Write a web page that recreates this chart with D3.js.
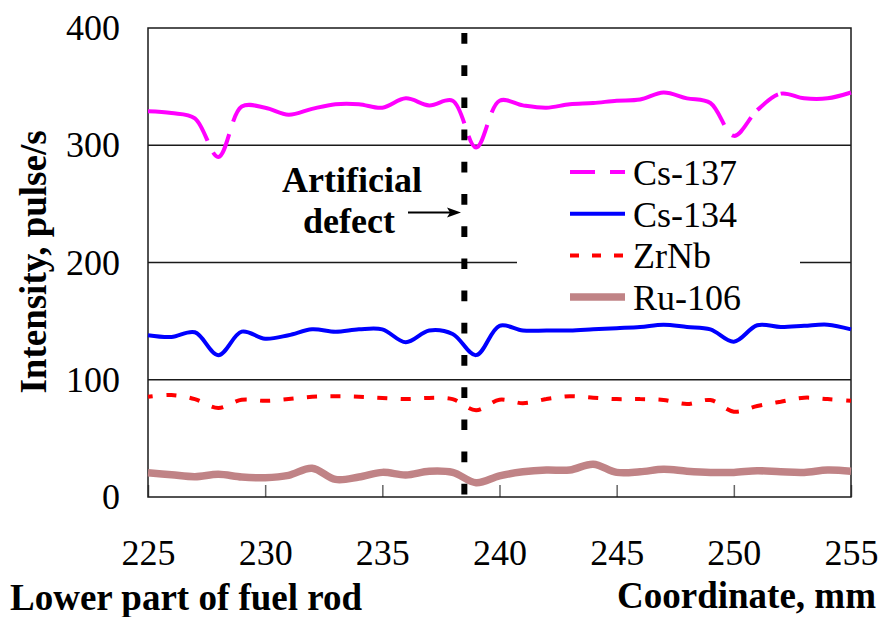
<!DOCTYPE html>
<html>
<head>
<meta charset="utf-8">
<script src="https://cdn.jsdelivr.net/npm/d3@7"></script>
<style>
  body { margin: 0; background: #fff; }
  text { font-family: "Liberation Serif", "Times New Roman", serif; }
</style>
</head>
<body>
<div id="chart"></div>
<script>
// Coordinate along the rod, mm
const coords = [225, 226, 227, 228, 229, 230, 231, 232, 233, 234, 235, 236, 237, 238, 239, 240,
                241, 242, 243, 244, 245, 246, 247, 248, 249, 250, 251, 252, 253, 254, 255];

// Intensity, pulse/s
const cs137 = [329, 327.5, 323, 290, 333, 332, 326, 331, 335, 335, 332, 340, 334, 338, 298, 338,
               334, 332, 335, 336, 338, 339, 345, 340, 336, 308, 330, 344, 340, 340, 345];
const cs134 = [138, 136.5, 140.5, 121, 141, 135, 138, 143, 141, 143, 143, 132, 142, 139, 121, 146,
               142, 142, 142, 143, 144, 145, 147, 145, 143, 132.5, 146.5, 145, 146, 147, 143];
const zrnb  = [85.5, 87, 83.5, 76, 83, 82, 83.5, 85.5, 86, 85.5, 84.5, 83.5, 84.5, 83.5, 74, 83,
               80, 83.5, 86, 84.7, 83.5, 83.5, 82.7, 79.3, 82.7, 72.8, 77.6, 81.3, 84.7, 83.5, 82];
const ru106 = [20.7, 19, 17.3, 19.3, 17, 16.5, 18.5, 24.5, 15, 17, 21, 18.8, 22, 21, 12.2, 18,
               21.5, 23, 23, 28, 21, 21.5, 23.6, 22, 21, 21, 22.4, 21.5, 21, 23, 22];

const seriesNames = ['Cs-137', 'Cs-134', 'ZrNb', 'Ru-106'];
const xTicks = [225, 230, 235, 240, 245, 250, 255];
const yTicks = [0, 100, 200, 300, 400];
const defectPos = 238.5;

const width = 880, height = 617;
const plotL = 148, plotR = 851, plotT = 28, plotB = 497;

const svg = d3.select('#chart').append('svg')
    .attr('width', width)
    .attr('height', height);

const x = d3.scaleLinear().domain([225, 255]).range([plotL, plotR]);
const y = d3.scaleLinear().domain([0, 400]).range([plotB, plotT]);

// gridlines
svg.append('g')
    .selectAll('line')
    .data(yTicks.filter(d => d > 0 && d < 400))
    .enter().append('line')
    .attr('x1', plotL).attr('x2', plotR)
    .attr('y1', d => y(d)).attr('y2', d => y(d))
    .attr('stroke', '#1a1a1a')
    .attr('stroke-width', 1.5);

// x axis (ticks point up, inside)
const xAxis = svg.append('g')
    .attr('transform', `translate(0, ${plotB})`)
    .call(d3.axisBottom(x).tickValues(xTicks).tickSizeInner(-12).tickSizeOuter(0).tickPadding(42));
xAxis.select('.domain').remove();
xAxis.selectAll('line').attr('stroke', '#666').attr('stroke-width', 1.5);
xAxis.selectAll('text').attr('font-size', 36).attr('fill', '#000')
    .style('font-family', '"Liberation Serif", serif');

// y axis
const yAxis = svg.append('g')
    .attr('transform', `translate(${plotL}, 0)`)
    .call(d3.axisLeft(y).tickValues(yTicks).tickSize(0).tickPadding(28));
yAxis.select('.domain').remove();
yAxis.selectAll('text').attr('font-size', 36).attr('fill', '#000')
    .style('font-family', '"Liberation Serif", serif');

// plot frame
svg.append('rect')
    .attr('x', plotL).attr('y', plotT)
    .attr('width', plotR - plotL).attr('height', plotB - plotT)
    .attr('fill', 'none')
    .attr('stroke', '#1a1a1a')
    .attr('stroke-width', 1.5);

// legend background (covers gridline)
svg.append('rect')
    .attr('x', 517).attr('y', 148)
    .attr('width', 283).attr('height', 174)
    .attr('fill', '#fff');

// dashed series restart their pattern at every data point, like the original
const styles = [
    { color: '#ff00ff', width: 4, dash: '26,13', offset: 0, perSegment: true },
    { color: '#0000ff', width: 4, dash: null, offset: 0, perSegment: false },
    { color: '#ff0000', width: 4, dash: '10,13.4', offset: 5, perSegment: true },
    { color: '#c08386', width: 7.5, dash: null, offset: 0, perSegment: false }
];
const allSeries = [cs137, cs134, zrnb, ru106];

const line = d3.line()
    .x((d, i) => x(coords[i]))
    .y(d => y(d))
    .curve(d3.curveCatmullRom.alpha(0.5));

// turn each bezier piece into its own subpath
function segmented(d) {
    const parts = d.split('C');
    let out = parts[0];
    let cur = parts[0].slice(1);
    for (let i = 1; i < parts.length; i++) {
        const nums = parts[i].split(',');
        out += 'M' + cur + 'C' + parts[i];
        cur = nums[4] + ',' + nums[5];
    }
    return out;
}

allSeries.forEach((values, k) => {
    const d = line(values);
    svg.append('path')
        .attr('d', styles[k].perSegment ? segmented(d) : d)
        .attr('fill', 'none')
        .attr('stroke', styles[k].color)
        .attr('stroke-width', styles[k].width)
        .attr('stroke-dasharray', styles[k].dash)
        .attr('stroke-dashoffset', styles[k].offset);
});

// artificial defect marker
svg.append('line')
    .attr('x1', x(defectPos)).attr('x2', x(defectPos))
    .attr('y1', 33).attr('y2', plotB)
    .attr('stroke', '#000')
    .attr('stroke-width', 6)
    .attr('stroke-dasharray', '10.7,21.5');

// legend
const legend = svg.append('g');
seriesNames.forEach((name, k) => {
    const by = 185 + k * 41.7;
    legend.append('line')
        .attr('x1', 570).attr('x2', 625)
        .attr('y1', by - 13).attr('y2', by - 13)
        .attr('stroke', styles[k].color)
        .attr('stroke-width', styles[k].width)
        .attr('stroke-dasharray', k === 0 ? '25,15' : (k === 2 ? '9,13' : null));
    legend.append('text')
        .attr('x', 633).attr('y', by)
        .attr('font-size', 36)
        .text(name);
});

// annotation
svg.append('text')
    .attr('x', 352).attr('y', 192)
    .attr('text-anchor', 'middle')
    .attr('font-size', 36).attr('font-weight', 'bold')
    .text('Artificial');
svg.append('text')
    .attr('x', 349).attr('y', 233)
    .attr('text-anchor', 'middle')
    .attr('font-size', 36).attr('font-weight', 'bold')
    .text('defect');
svg.append('line')
    .attr('x1', 408).attr('x2', 450)
    .attr('y1', 212.5).attr('y2', 212.5)
    .attr('stroke', '#000').attr('stroke-width', 2);
svg.append('path')
    .attr('d', 'M461,212.5 L447,207.5 L450,212.5 L447,217.5 Z')
    .attr('fill', '#000');

// axis titles
svg.append('text')
    .attr('transform', 'translate(46, 262) rotate(-90)')
    .attr('text-anchor', 'middle')
    .attr('font-size', 37).attr('font-weight', 'bold')
    .text('Intensity, pulse/s');
svg.append('text')
    .attr('x', 10).attr('y', 610)
    .attr('font-size', 37).attr('font-weight', 'bold')
    .text('Lower part of fuel rod');
svg.append('text')
    .attr('x', 876).attr('y', 608)
    .attr('text-anchor', 'end')
    .attr('font-size', 37).attr('font-weight', 'bold')
    .text('Coordinate, mm');
</script>
</body>
</html>
